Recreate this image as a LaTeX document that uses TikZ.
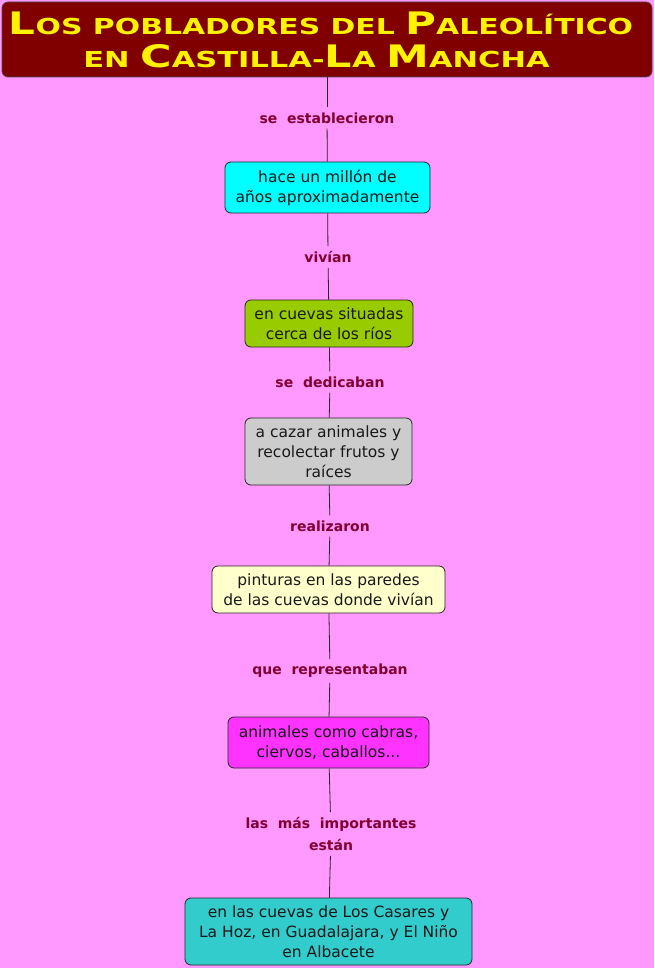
\documentclass[tikz,border=0pt]{standalone}
\usepackage{fontspec}
\setmainfont{DejaVu Sans}
\definecolor{bgc}{HTML}{FF99FF}
\definecolor{titlec}{HTML}{800000}
\definecolor{lblc}{HTML}{800030}
\definecolor{cyanc}{HTML}{00FFFF}
\definecolor{greenc}{HTML}{99CC00}
\definecolor{grayc}{HTML}{CCCCCC}
\definecolor{yellowc}{HTML}{FFFFCC}
\definecolor{magc}{HTML}{FF33FF}
\definecolor{tealc}{HTML}{33CCCC}
\newcommand\bigL[1]{{\fontsize{31}{31}\selectfont #1}}
\newcommand\smL[1]{{\fontsize{22}{22}\selectfont #1}}
\begin{document}
\begin{tikzpicture}[x=1pt,y=-1pt,
  box/.style={draw=black!85, rounded corners=6pt, line width=0.8pt, align=center,
    font=\fontsize{15.5}{20}\selectfont, inner sep=0pt, text=black!90},
  lbl/.style={font=\bfseries\fontsize{14}{22}\selectfont, text=lblc, align=center, inner sep=5pt},
  conn/.style={draw=black!85, line width=0.8pt},
  ttl/.style={font=\bfseries, text=yellow, inner sep=0pt, anchor=base}]
\fill[bgc] (0,0) rectangle (654,968);
\node[draw=black!70, fill=titlec, rounded corners=6pt, line width=0.8pt,
  minimum width=650pt, minimum height=75pt, inner sep=0pt] (title) at (327,39.5) {};
\node[ttl] (t1) at (321,35) {\scalebox{1.358}[1]{\bigL{L}\smL{OS POBLADORES DEL }\bigL{P}\smL{ALEOLÍTICO}}};
\node[ttl] (t2) at (316.5,68) {\scalebox{1.386}[1]{\smL{EN }\bigL{C}\smL{ASTILLA-}\bigL{L}\smL{A }\bigL{M}\smL{ANCHA}}};

\node[lbl] (l1) at (327,118) {se~~establecieron};
\node[box, fill=cyanc, minimum width=205pt, minimum height=51pt] (n1) at (327.5,187.5) {hace un millón de\\años aproximadamente};
\node[lbl] (l2) at (328,257) {vivían};
\node[box, fill=greenc, minimum width=168pt, minimum height=47pt] (n2) at (329,323.5) {en cuevas situadas\\cerca de los ríos};
\node[lbl] (l3) at (330,382) {se~~dedicaban};
\node[box, fill=grayc, minimum width=167pt, minimum height=67pt] (n3) at (328.5,451.5) {a cazar animales y\\recolectar frutos y\\raíces};
\node[lbl] (l4) at (330,526) {realizaron};
\node[box, fill=yellowc, minimum width=233pt, minimum height=47pt] (n4) at (328.5,589.5) {pinturas en las paredes\\de las cuevas donde vivían};
\node[lbl] (l5) at (330,671) {que~~representaban};
\node[box, fill=magc, minimum width=201pt, minimum height=51pt] (n5) at (328.5,742.5) {animales como cabras,\\ciervos, caballos...};
\node[lbl] (l6) at (331,834) {las~~más~~importantes\\están};
\node[box, fill=tealc, minimum width=287pt, minimum height=67pt] (n6) at (328.5,931.5) {en las cuevas de Los Casares y\\La Hoz, en Guadalajara, y El Niño\\en Albacete};

\draw[conn] (title) -- (l1);
\draw[conn] (l1) -- (n1);
\draw[conn] (n1) -- (l2);
\draw[conn] (l2) -- (n2);
\draw[conn] (n2) -- (l3);
\draw[conn] (l3) -- (n3);
\draw[conn] (n3) -- (l4);
\draw[conn] (l4) -- (n4);
\draw[conn] (n4) -- (l5);
\draw[conn] (l5) -- (n5);
\draw[conn] (n5) -- (l6);
\draw[conn] (l6) -- (n6);
\end{tikzpicture}
\end{document}
